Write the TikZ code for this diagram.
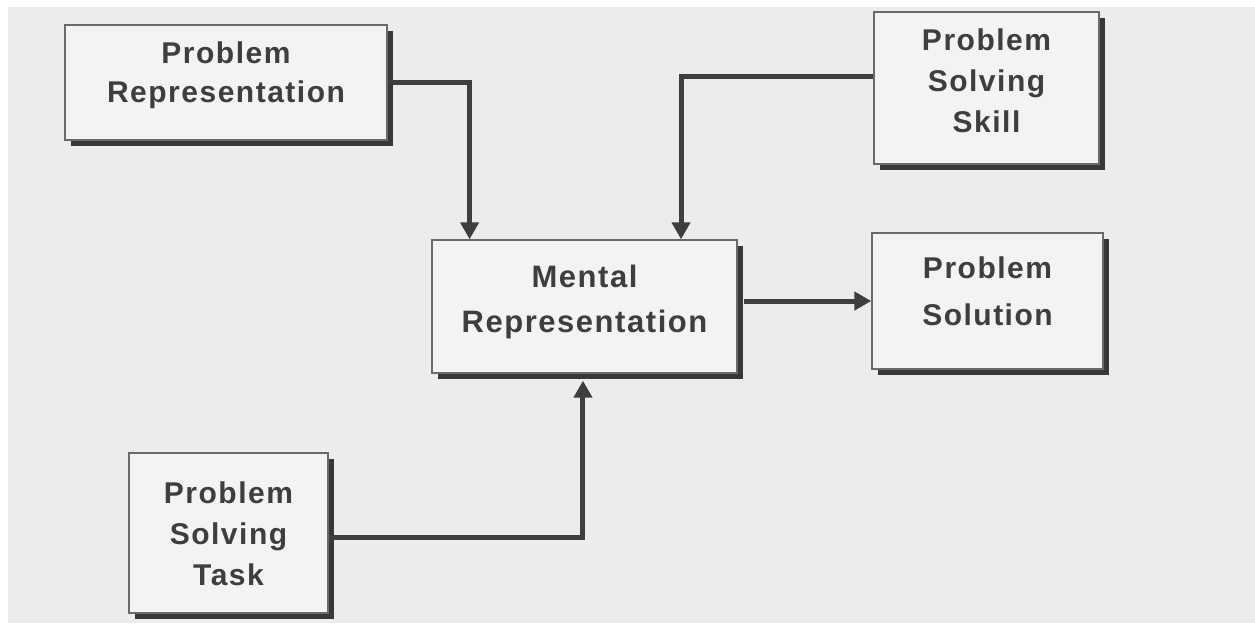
\documentclass[tikz,border=0pt]{standalone}
\usepackage{fontspec}
\setmainfont{Liberation Sans}[LetterSpace=5]
\usetikzlibrary{shadows,arrows.meta,calc}
\definecolor{bggray}{HTML}{ECECEC}
\definecolor{boxfill}{HTML}{F3F3F3}
\definecolor{boxline}{HTML}{6A6A6A}
\definecolor{ink}{HTML}{3E3E3E}
\definecolor{shade}{HTML}{383838}
\tikzset{
  blockbox/.style={draw=boxline, line width=1.4pt, fill=boxfill, text=ink,
    align=center, inner sep=0pt,
    font=\bfseries\fontsize{30}{40}\selectfont,
    drop shadow={shadow xshift=6pt, shadow yshift=-6pt, fill=shade, opacity=1}},
  link/.style={draw=ink, line width=5pt, line cap=butt, line join=miter},
  tip/.style={-{Triangle[length=17pt,width=18pt]}}
}
\begin{document}
\begin{tikzpicture}[x=1pt,y=-1pt]
\useasboundingbox (0,0) rectangle (1255,627);
\fill[white] (0,0) rectangle (1255,627);
\fill[bggray] (8,7) rectangle (1255,623);

\node[blockbox, minimum width=322pt, minimum height=115pt,
      text height=60.5pt, text depth=20pt,
      font=\bfseries\fontsize{30}{39}\selectfont] (pr) at (226,82.5)
  {Problem\\Representation};
\node[blockbox, minimum width=305pt, minimum height=133pt,
      text height=67pt, text depth=15pt,
      font=\bfseries\fontsize{31}{45}\selectfont] (mr) at (584.5,306.5)
  {Mental\\Representation};
\node[blockbox, minimum width=225pt, minimum height=152pt,
      text height=103.5pt, text depth=14pt,
      font=\bfseries\fontsize{30}{41}\selectfont] (pss) at (986.5,88)
  {Problem\\Solving\\Skill};
\node[blockbox, minimum width=231pt, minimum height=136pt,
      text height=68.5pt, text depth=19pt,
      font=\bfseries\fontsize{30}{47}\selectfont] (ps) at (987.5,301)
  {Problem\\Solution};
\node[blockbox, minimum width=199pt, minimum height=160pt,
      text height=105.5pt, text depth=0pt,
      font=\bfseries\fontsize{30}{41}\selectfont] (pst) at (228.5,533)
  {Problem\\Solving\\Task};

\coordinate (mrA) at ($(mr.north west)!0.125!(mr.north east)$);
\coordinate (mrB) at ($(mr.north west)!0.815!(mr.north east)$);
\coordinate (mrC) at ($(mr.south west)!0.495!(mr.south east)$);

\draw[link, tip] (pr.east) -| (mrA);
\draw[link, tip] ([yshift=12pt]pss.west) -| (mrB);
\draw[link, tip] ([yshift=-4pt]pst.east) -| ([yshift=-7pt]mrC);
\draw[link, tip] ([xshift=6pt]mr.east |- ps.west) -- (ps.west);
\end{tikzpicture}
\end{document}
